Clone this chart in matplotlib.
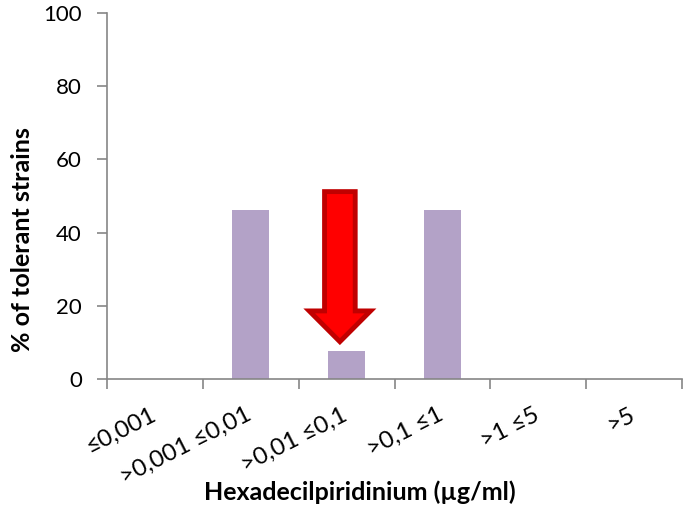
import matplotlib
matplotlib.use("Agg")
import matplotlib.pyplot as plt
from matplotlib.patches import Polygon
import matplotlib.transforms as mtransforms
import numpy as np

plt.rcParams['font.family'] = ['Lato', 'DejaVu Sans']

categories = ["≤0,001", ">0,001 ≤0,01", ">0,01 ≤0,1", ">0,1 ≤1", ">1 ≤5", ">5"]
values = [0, 46.15, 7.69, 46.15, 0, 0]
yticks = [0, 20, 40, 60, 80, 100]

fig = plt.figure(figsize=(6.84, 5.2), dpi=100)
ax = fig.add_axes([107/684, 1-379/520, (682-107)/684, (379-13)/520])

x = np.arange(len(categories))
ax.bar(x, values, width=0.39, color='#B3A2C7', zorder=2)

ax.set_xlim(-0.5, len(categories)-0.5)
ax.set_ylim(0, 100)
ax.set_yticks(yticks)
ax.set_yticklabels([str(v) for v in yticks], fontsize=16)

ax.set_xticks(np.arange(-0.5, len(categories), 1.0))
ax.set_xticklabels([])
ax.set_xticks(x, minor=True)
ax.set_xticklabels(categories, minor=True, rotation=27, ha='right', va='top',
                   rotation_mode='anchor', fontsize=17.5)
ax.tick_params(axis='x', which='minor', length=0, pad=18)
ax.tick_params(axis='x', which='major', length=7, color='#868686', width=1.2)
ax.tick_params(axis='y', length=7, color='#868686', width=1.2, pad=11)

offset = mtransforms.ScaledTranslation(-5/100, 0, fig.dpi_scale_trans)
for lab in ax.get_xticklabels(minor=True):
    lab.set_transform(lab.get_transform() + offset)

for s in ['top', 'right']:
    ax.spines[s].set_visible(False)
for s in ['left', 'bottom']:
    ax.spines[s].set_color('#868686')
    ax.spines[s].set_linewidth(1.2)

ax.set_ylabel('% of tolerant strains', fontsize=18, fontweight='bold')
ax.set_xlabel('Hexadecilpiridinium (µg/ml)', fontsize=18, fontweight='bold')
ax.yaxis.set_label_coords(-(107-23)/575, 0.38)
ax.xaxis.set_label_coords((360-107)/575, -(492-379)/366)
ax.xaxis.label.set_va('center')
ax.yaxis.label.set_va('center')

# red arrow pointing at third category
cx = 1.93
sw, hw = 0.16, 0.32
top, base, tip = 51.2, 18.6, 10.2
arrow = Polygon([[cx-sw, top], [cx+sw, top], [cx+sw, base], [cx+hw, base],
                 [cx, tip], [cx-hw, base], [cx-sw, base]],
                closed=True, facecolor='#FF0000', edgecolor='#C00000',
                linewidth=3.5, joinstyle='miter', zorder=3)
ax.add_patch(arrow)

fig.savefig('out.png', dpi=100)
